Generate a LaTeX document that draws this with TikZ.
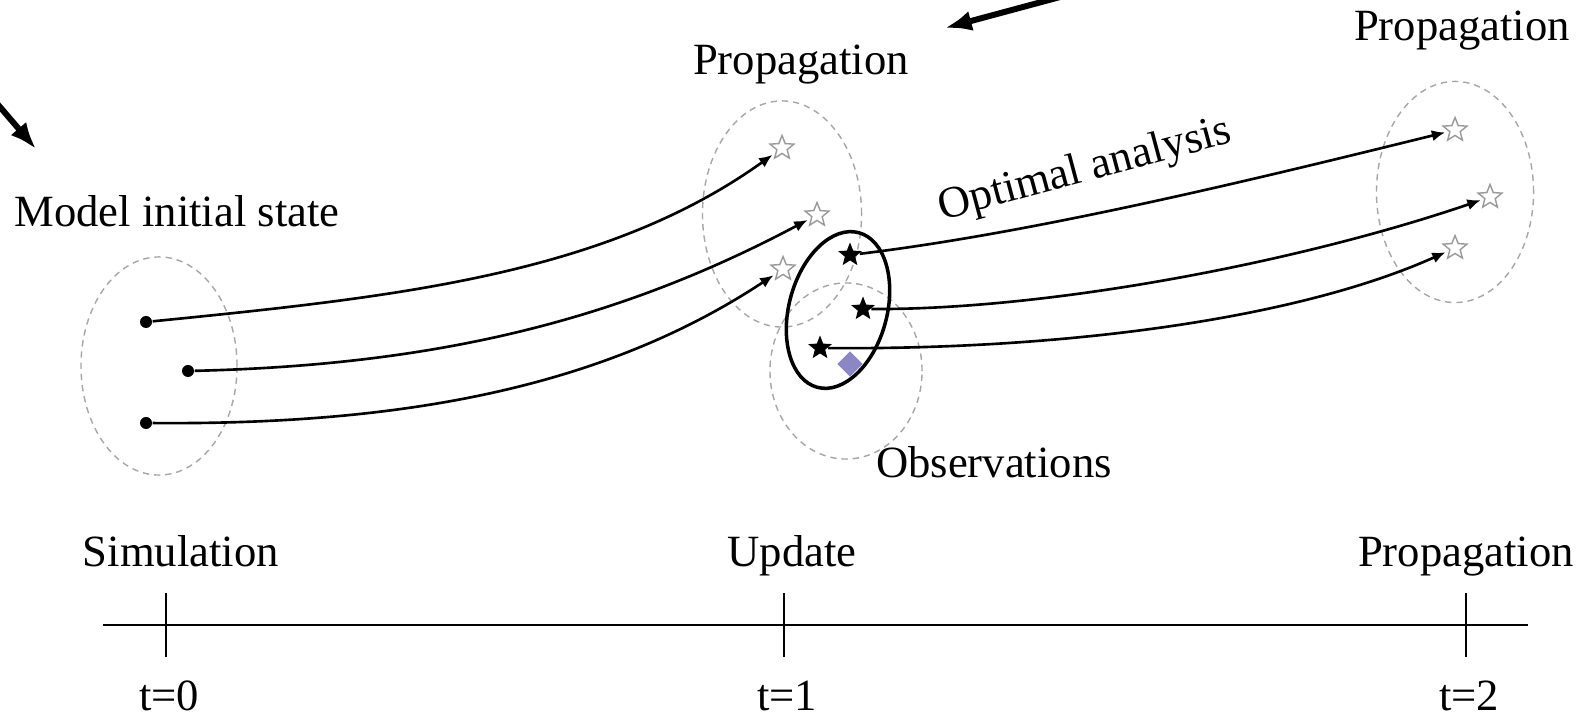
\documentclass[tikz,border=0pt]{standalone}
\usepackage{fontspec}
\setmainfont{Liberation Serif}
\usetikzlibrary{shapes.geometric, arrows.meta}
\definecolor{obsviolet}{RGB}{140,134,196}
\tikzstyle{spread} = [ellipse, 
draw=gray!70, 
dash pattern=on 1.8pt off 1.4pt, 
line width=0.4pt, 
inner sep=0pt]
\tikzstyle{member} = [circle, fill=black, inner sep=0pt, minimum size=0.12cm]
\tikzstyle{forecast} = [star, star points=5, star point ratio=2.3, 
draw=gray!80, fill=white, line width=0.4pt, 
inner sep=0pt, minimum size=0.25cm]
\tikzstyle{analysis} = [star, star points=5, star point ratio=2.3, 
fill=black, inner sep=0pt, minimum size=0.25cm]
\tikzstyle{traj} = [line width=0.75pt, -{Latex[length=3.8pt,width=3.2pt]}, shorten >=1pt]
\tikzstyle{pointer} = [line width=1.7pt, -{Latex[length=7.6pt,width=5.8pt]}]
\tikzstyle{tickmark} = [line width=0.6pt]
\tikzstyle{txt} = [font=\fontsize{12.7}{15}\selectfont, anchor=base, inner sep=0pt]

\begin{document}
\begin{tikzpicture}[x=0.01cm, y=-0.01cm]
            \useasboundingbox (0,0) rectangle (1583,716);
            % ensembles and observations
            \node (ens0) [spread, minimum width=1.56cm, minimum height=2.18cm] at (159,366) {};
            \node (ens1) [spread, minimum width=1.59cm, minimum height=2.26cm] at (782,214) {};
            \node (obs) [spread, minimum width=1.52cm, minimum height=1.76cm] at (846,371) {};
            \node (ens2) [spread, minimum width=1.57cm, minimum height=2.21cm] at (1455,192) {};
            \node (upd) [ellipse, draw, line width=1pt, rotate=-15, inner sep=0pt,
                minimum width=0.98cm, minimum height=1.6cm] at (838,310) {};

            \node (m1) [member] at (146,322) {};
            \node (m2) [member] at (188,371) {};
            \node (m3) [member] at (146,423) {};
            \node (p1) [forecast] at (782,148) {};
            \node (p2) [forecast] at (817,215) {};
            \node (p3) [forecast] at (783,269) {};
            \node (a1) [analysis] at (850,255) {};
            \node (a2) [analysis] at (863,309) {};
            \node (a3) [analysis] at (820,348) {};
            \node (y1) [diamond, fill=obsviolet, inner sep=0pt, minimum size=0.26cm] at (850,364) {};
            \node (q1) [forecast] at (1455,130) {};
            \node (q2) [forecast] at (1490,197) {};
            \node (q3) [forecast] at (1455,248) {};

            \draw [traj] (m1) .. controls (396,297) and (605,275) .. (p1);
            \draw [traj] (m2) .. controls (438,365) and (619,320) .. (p2);
            \draw [traj] (m3) .. controls (396,425) and (600,390) .. (p3);
            \draw [traj] (a1) .. controls (1040,232) and (1260,178) .. (q1);
            \draw [traj] (a2) .. controls (1050,310) and (1300,262) .. (q2);
            \draw [traj] (a3) .. controls (1050,350) and (1290,322) .. (q3);

            % labels
            \node (init) [txt] at (177,227) {Model initial state};
            \node (prop1) [txt] at (801,75) {Propagation};
            \node (prop2) [txt] at (1462,41) {Propagation};
            \node (opt) [txt, rotate=15] at (1088,181) {Optimal analysis};
            \node (obslbl) [txt] at (994,477) {Observations};
            \node (sim) [txt] at (181,566) {Simulation};
            \node (updlbl) [txt] at (792,566) {Update};
            \node (prop3) [txt] at (1466,566) {Propagation};

            % time axis
            \coordinate (axstart) at (103,625);
            \coordinate (axend) at (1528,625);
            \draw [tickmark] (axstart) -- (axend);
            \foreach \x/\n in {166/0, 784/1, 1466/2} {
                \draw [tickmark] (\x,593) -- (\x,657);
                \node (t\n) [txt] at (\x+3,710) {t=\n};
            }

            % cut-off pointers
            \coordinate (in1) at (-12,93);
            \coordinate (in1tip) at (36,149);
            \coordinate (in2) at (1075,-7);
            \coordinate (in2tip) at (945,28);
            \draw [pointer] (in1) -- (in1tip);
            \draw [pointer] (in2) -- (in2tip);
        \end{tikzpicture}
\end{document}
